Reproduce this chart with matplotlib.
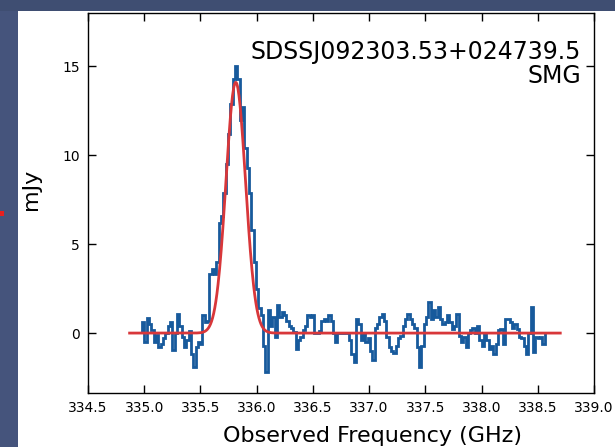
import numpy as np
import matplotlib
matplotlib.use("Agg")
import matplotlib.pyplot as plt
from matplotlib.patches import Rectangle

# ---- data ----
chan_start = 334.98      # GHz, left edge of first channel
chan_width = 0.0207      # GHz
flux = [
    # 334.98 - 335.50
    0.6, -0.5, 0.85, 0.5, 0.15, -0.5, -0.1, -0.8, -0.6, -0.3, 0.0, 0.4, 0.6,
    -0.95, 0.0, 1.1, 0.4, -0.2, -0.8, -0.4, 0.1, -1.2, -1.9, -0.8, -0.5,
    # line region
    -0.6, 1.0, 0.6, 0.7, 3.3, 3.6, 3.3, 4.0,
    6.2, 6.6, 7.9, 9.5, 11.2, 12.9, 14.3, 15.0, 14.3, 12.0, 12.7, 10.4, 9.3,
    7.9, 5.8, 4.0, 2.5, 1.4, 1.0, -0.7, -2.2,
    # 336.1 - 336.7
    1.3, 0.4, 0.9, -0.2, 1.57, 0.9, 1.2, 1.0, 0.7, 0.4, 0.3, 0.04, -0.9, -0.4,
    -0.2, 0.2, 0.4, 1.0, 0.9, 1.0, 0.0, 0.0, 0.1, 0.7, 0.8, 0.7, 1.0, 0.7,
    0.0, -0.5,
    # 336.7 - 337.4
    0.0, 0.0, 0.0, 0.0, 0.0, -0.4, -1.2, -1.6, 0.8, 0.5, -0.4, 0.0, -0.5,
    -0.3, -1.0, -1.5, 0.3, 0.5, 0.9, 1.1, 0.7, -0.2, -0.8, -1.0, -1.1, -0.7,
    -0.3, -0.15, 0.4, 0.8, 1.1, 0.8,
    # 337.4 - 338.0
    0.5, 0.3, -0.8, -1.9, -0.7, 0.5, 0.9, 1.75, 0.8, 1.3, 0.9, 1.45, 0.8,
    0.5, 0.6, 1.0, 0.6, 0.25, 0.4, 1.1, -0.15, -0.5, -0.2, -0.8, 0.0, 0.15,
    0.3, 0.0, 0.4, -0.4, -0.7, 0.0,
    # 338.0 - 338.56
    -0.4, -0.9, -0.7, -1.15, -0.6, 0.15, 0.25, -0.6, 0.8, 0.8, 0.6, 0.3, 0.5,
    0.25, -0.2, -0.3, -0.7, -1.15, 0.0, 1.45, -1.05, -0.2, -0.3, -0.2, -0.6,
]

# Gaussian fit parameters
fit_amp = 14.1
fit_center = 335.814
fit_sigma = 0.087
fit_range = (334.87, 338.70)

xticks = [334.5, 335.0, 335.5, 336.0, 336.5, 337.0, 337.5, 338.0, 338.5, 339.0]
yticks = [0, 5, 10, 15]
xlim = (334.5, 339.0)
ylim = (-3.37, 18.0)

title_lines = ["SDSSJ092303.53+024739.5", "SMG"]
xlabel = "Observed Frequency (GHz)"
ylabel = "mJy"

# ---- figure ----
W, H = 615, 447
fig = plt.figure(figsize=(W / 100, H / 100), dpi=100)
fig.patch.set_facecolor("white")

# slide background strips
fig.patches.append(Rectangle((0, 0), 18 / W, 1, transform=fig.transFigure,
                             facecolor="#45547c", edgecolor="none", zorder=0))
fig.patches.append(Rectangle((0, 1 - 11 / H), 1, 11 / H, transform=fig.transFigure,
                             facecolor="#3f4e72", edgecolor="none", zorder=0))
fig.patches.append(Rectangle((0, 1 - 216 / H), 4 / W, 5 / H, transform=fig.transFigure,
                             facecolor="#e8201f", edgecolor="none", zorder=1))

ax = fig.add_axes([88 / W, 1 - 393 / H, (594 - 88) / W, (393 - 13) / H])

flux = np.asarray(flux)
edges = chan_start + chan_width * np.arange(len(flux) + 1)
ax.stairs(flux, edges, baseline=0, color="#175a9c", linewidth=2.0, zorder=2)

xf = np.linspace(fit_range[0], fit_range[1], 800)
yf = fit_amp * np.exp(-0.5 * ((xf - fit_center) / fit_sigma) ** 2)
ax.plot(xf, yf, color="#d8373a", linewidth=2.0, zorder=3)

ax.set_xlim(*xlim)
ax.set_ylim(*ylim)
ax.set_xticks(xticks)
ax.set_xticklabels([f"{t:.1f}" for t in xticks])
ax.set_yticks(yticks)
ax.tick_params(direction="in", top=True, right=True, length=6, width=1,
               labelsize=10, pad=6)
for s in ax.spines.values():
    s.set_linewidth(1.0)

ax.text(0.975, 0.93, "\n".join(title_lines), transform=ax.transAxes,
        ha="right", va="top", fontsize=17, linespacing=1.0)

ax.set_xlabel(xlabel, fontsize=16)
ax.xaxis.set_label_coords(0.562, -0.088)
ax.set_ylabel(ylabel, fontsize=16)
ax.yaxis.set_label_coords(-0.092, 0.535)

fig.savefig("out.png", dpi=100, facecolor=fig.get_facecolor())
